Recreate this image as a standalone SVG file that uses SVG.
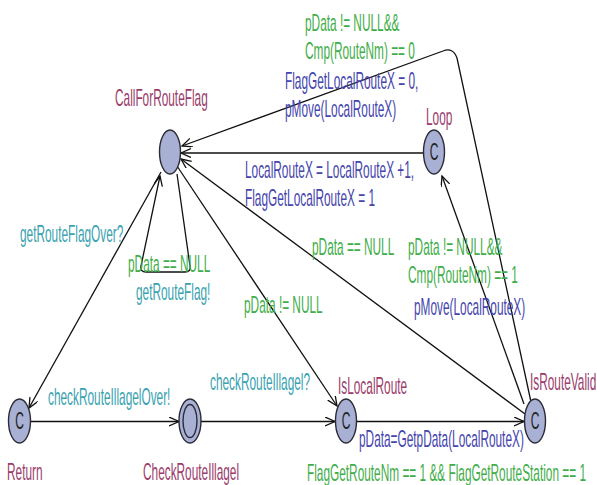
<svg xmlns="http://www.w3.org/2000/svg" width="597" height="485" viewBox="0 0 597 485">
  <style>
    .t { font-family: "Liberation Sans", Arial, sans-serif; font-size: 23px; }
    .loc { fill: #9a3c6c; }
    .guard { fill: #3fae4a; }
    .sync { fill: #3aa2b0; }
    .upd { fill: #4545ad; }
    .cm { fill: #222; font-size: 24px; text-anchor: middle; }
    .node { fill: #a8b0d3; stroke: #2b2b38; stroke-width: 1.4; }
    .edge { fill: none; stroke: #111; stroke-width: 1.3; marker-end: url(#arrow); }
  </style>
  <defs>
    <marker id="arrow" markerUnits="userSpaceOnUse" markerWidth="12" markerHeight="12" refX="10" refY="4.5" orient="auto">
      <path d="M0,0 L10,4.5 L0,9" fill="none" stroke="#111" stroke-width="1.3"/>
    </marker>
  </defs>
  <rect width="597" height="485" fill="#fff"/>

  <!-- connectors -->
  <g id="edges">
    <path class="edge" d="M161,172 L29,408"/>
    <path class="edge" d="M177,174 L190,266 Q191,272 185,272 L146,272 Q140,272 141,266 L160,176"/>
    <path class="edge" d="M177,166 L337,406"/>
    <path class="edge" d="M525,414 L181,159"/>
    <path class="edge" d="M524,404 L442,176"/>
    <path class="edge" d="M531,402 L457,58 Q453,47 443,51 L182,146"/>
    <path class="edge" d="M424,153 L181,153"/>
    <path class="edge" d="M31,421.5 L179,421.5"/>
    <path class="edge" d="M201,421.5 L335,421.5"/>
    <path class="edge" d="M357,421.5 L524,421.5"/>
  </g>

  <!-- locations -->
  <g id="CallForRouteFlag">
    <ellipse class="node" cx="170" cy="152" rx="10.5" ry="22"/>
    <text class="t loc" transform="translate(115 106) scale(0.515 1)">CallForRouteFlag</text>
  </g>
  <g id="Loop">
    <ellipse class="node" cx="434" cy="152" rx="10.5" ry="22"/>
    <text class="t cm" transform="translate(434 160) scale(0.5 1)">C</text>
    <text class="t loc" transform="translate(426 125) scale(0.515 1)">Loop</text>
  </g>
  <g id="Return">
    <ellipse class="node" cx="19.5" cy="421" rx="11" ry="22"/>
    <text class="t cm" transform="translate(19.5 429) scale(0.5 1)">C</text>
    <text class="t loc" transform="translate(7 480) scale(0.515 1)">Return</text>
  </g>
  <g id="CheckRouteIllagel">
    <ellipse class="node" cx="190" cy="421" rx="11" ry="22"/>
    <ellipse class="node" cx="190" cy="421" rx="7" ry="16.5"/>
    <text class="t loc" transform="translate(143 480) scale(0.515 1)">CheckRouteIllagel</text>
  </g>
  <g id="IsLocalRoute">
    <ellipse class="node" cx="346" cy="421" rx="10.5" ry="22"/>
    <text class="t cm" transform="translate(346 429) scale(0.5 1)">C</text>
    <text class="t loc" transform="translate(338 394) scale(0.515 1)">IsLocalRoute</text>
  </g>
  <g id="IsRouteValid">
    <ellipse class="node" cx="535" cy="421" rx="10.5" ry="22"/>
    <text class="t cm" transform="translate(535 429) scale(0.5 1)">C</text>
    <text class="t loc" transform="translate(530 390) scale(0.515 1)">IsRouteValid</text>
  </g>

  <!-- edge labels -->
  <g id="labels">
    <text class="t guard" transform="translate(305 31) scale(0.515 1)">pData != NULL&amp;&amp;</text>
    <text class="t guard" transform="translate(305 59) scale(0.515 1)">Cmp(RouteNm) == 0</text>
    <text class="t upd" transform="translate(285 89) scale(0.515 1)">FlagGetLocalRouteX = 0,</text>
    <text class="t upd" transform="translate(285 117) scale(0.515 1)">pMove(LocalRouteX)</text>

    <text class="t upd" transform="translate(245 178) scale(0.515 1)">LocalRouteX = LocalRouteX +1,</text>
    <text class="t upd" transform="translate(245 206) scale(0.515 1)">FlagGetLocalRouteX = 1</text>

    <text class="t sync" transform="translate(20 242) scale(0.515 1)">getRouteFlagOver?</text>
    <text class="t guard" transform="translate(128 272) scale(0.515 1)">pData == NULL</text>
    <text class="t sync" transform="translate(136 300) scale(0.515 1)">getRouteFlag!</text>
    <text class="t guard" transform="translate(244 313) scale(0.515 1)">pData != NULL</text>

    <text class="t guard" transform="translate(312 255) scale(0.515 1)">pData == NULL</text>
    <text class="t guard" transform="translate(408 255) scale(0.515 1)">pData != NULL&amp;&amp;</text>
    <text class="t guard" transform="translate(408 283) scale(0.515 1)">Cmp(RouteNm) == 1</text>
    <text class="t upd" transform="translate(414 315) scale(0.515 1)">pMove(LocalRouteX)</text>

    <text class="t sync" transform="translate(48 405) scale(0.515 1)">checkRouteIllagelOver!</text>
    <text class="t sync" transform="translate(210 390) scale(0.515 1)">checkRouteIllagel?</text>
    <text class="t upd" transform="translate(359 447) scale(0.515 1)">pData=GetpData(LocalRouteX)</text>
    <text class="t guard" transform="translate(307 481) scale(0.515 1)">FlagGetRouteNm == 1 &amp;&amp; FlagGetRouteStation == 1</text>
  </g>
</svg>
